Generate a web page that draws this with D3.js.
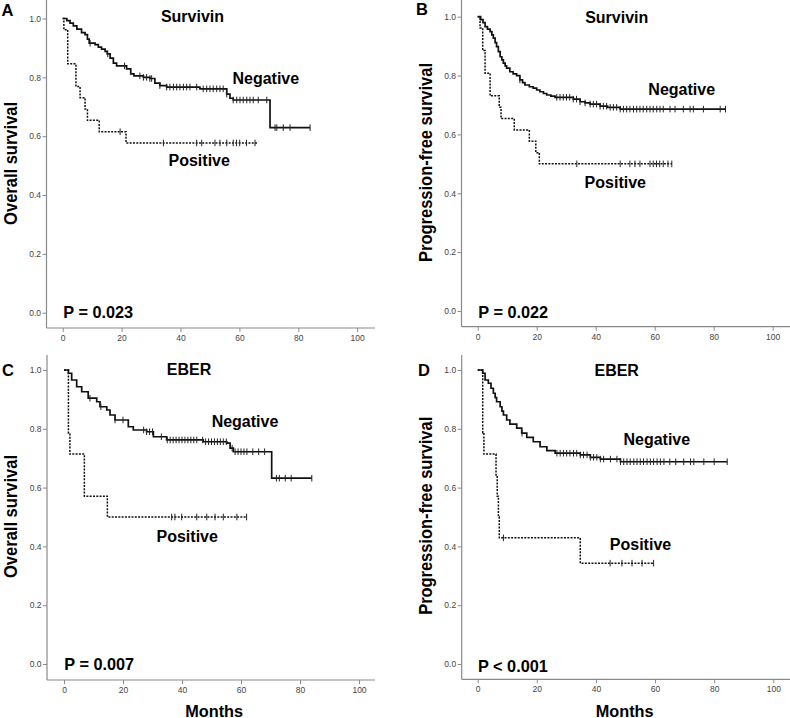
<!DOCTYPE html>
<html>
<head>
<meta charset="utf-8">
<script src="https://cdn.jsdelivr.net/npm/d3@7"></script>
<style>
  html, body { margin: 0; padding: 0; background: #fff; }
  svg { display: block; font-family: Arial, "Liberation Sans", sans-serif; }
</style>
</head>
<body>
<svg id="chart" width="790" height="718"></svg>
<script>
// ---------- DATA ----------
const xTicks = [0, 20, 40, 60, 80, 100];
const yTicks = [0, 0.2, 0.4, 0.6, 0.8, 1.0];

// Panel A: Survivin, overall survival
const aNegEvents = [[1.4,0.993],[2.5,0.984],[3.6,0.975],[4.8,0.964],[6.4,0.952],[7.6,0.945],[8.4,0.93],[9.0,0.916],[11,0.911],[12.1,0.903],[13.2,0.896],[14.4,0.888],[15.1,0.88],[16.1,0.865],[17.2,0.848],[18.3,0.839],[21.7,0.829],[23.1,0.812],[24.2,0.805],[27.4,0.8],[29.6,0.796],[31.3,0.78],[33,0.772],[35.3,0.767],[46.6,0.761],[55.7,0.743],[56.8,0.729],[57.9,0.723],[70.4,0.629]];
const aNegEnd = 84;
const aNegCensor = [9.3,15.3,21,26.2,27.4,28.5,29.6,30.2,33,35.3,36.4,37.6,38.7,39.8,41,42.1,43.2,45.5,47.7,48.9,50,51.1,52.3,53.4,54.5,55.7,57.9,59.1,60.2,61.3,62.5,63.6,64.7,66.4,69.3,72.1,72.7,74.9,77.2,84];
const aPosEvents = [[0.4,0.962],[1.7,0.846],[4.5,0.769],[5.9,0.731],[7.6,0.692],[8.4,0.654],[12.4,0.615],[21.5,0.577]];
const aPosEnd = 66.2;
const aPosCensor = [19.5,34.2,45.5,47.2,51.7,53.4,55.7,57.9,59,60.1,62.4,65.3];

// Panel B: Survivin, progression-free survival
const bNegEvents = [[1.0,0.99],[1.8,0.98],[2.5,0.966],[3.3,0.958],[4.2,0.949],[4.8,0.938],[5.3,0.927],[5.9,0.912],[6.4,0.898],[7.0,0.881],[7.6,0.864],[8.2,0.853],[8.7,0.842],[9.3,0.833],[9.8,0.825],[10.9,0.813],[12,0.806],[13.2,0.8],[14.3,0.785],[15.2,0.776],[16,0.768],[17.5,0.762],[18.8,0.757],[20,0.751],[21.1,0.745],[22.3,0.739],[23.4,0.734],[24.8,0.73],[26.2,0.726],[32.4,0.72],[34.7,0.711],[36.4,0.707],[38.1,0.703],[41.5,0.696],[44,0.692],[48.3,0.686]];
const bNegEnd = 84;
const bNegCensor = [14.3,26.8,27.9,29,30.1,31.2,32.4,33.5,34.7,36.4,38.1,39.2,40.3,41.5,42.6,43.7,44.9,46,47.1,48.3,49.4,50.5,51.6,52.8,53.9,55,56.1,57.3,58.4,59.5,60.7,61.8,62.9,65.2,66.9,69.7,72,73.1,76.5,82.2,84];
const bPosEvents = [[0.8,0.962],[1.7,0.885],[2.5,0.808],[4.2,0.731],[7.3,0.692],[7.9,0.654],[12.4,0.615],[17.5,0.577],[19.7,0.538],[20.9,0.5]];
const bPosEnd = 65.8;
const bPosCensor = [33.6,48.3,51.6,53.3,55,58.4,59.5,60.6,61.7,62.9,64.5,65.8];

// Panel C: EBER, overall survival
const cNegEvents = [[1.5,0.989],[2.6,0.966],[4.3,0.943],[6,0.926],[8.2,0.904],[11.1,0.892],[12.2,0.875],[14.5,0.864],[15.6,0.847],[17.3,0.83],[21.8,0.807],[23.5,0.796],[28,0.79],[30.3,0.773],[34.8,0.762],[47.2,0.756],[55.2,0.751],[56.3,0.734],[57.4,0.722],[70.4,0.632]];
const cNegEnd = 84;
const cNegCensor = [8.8,12.5,17.3,20,27,28,29,30,33,35,36,37,38,39,40,41,42,43,44,45,47,48,49,50,51,52,53,54,55,57,58,59,60,61,62,64,66,68,72,73,75,77,84];
const cPosEvents = [[1.5,0.786],[2.0,0.714],[6.9,0.571],[14.7,0.5]];
const cPosEnd = 61.9;
const cPosCensor = [36.5,37.6,39.9,45,48.4,51.2,54,58.6,61.9];

// Panel D: EBER, progression-free survival
const dNegEvents = [[1.7,0.989],[2.5,0.966],[3.6,0.955],[4.5,0.938],[5.3,0.921],[5.9,0.906],[6.4,0.892],[7.6,0.875],[8.2,0.86],[8.7,0.847],[9.8,0.83],[10.9,0.816],[13.2,0.802],[14.9,0.785],[16.6,0.771],[18.8,0.756],[21.1,0.739],[23.4,0.726],[26.2,0.717],[34.7,0.711],[38.1,0.703],[41.5,0.697],[48.3,0.688]];
const dNegEnd = 84.4;
const dNegCensor = [15,26.8,27.9,29,30.1,31.2,32.4,33.5,34.7,35.8,37,38.1,39.2,40.3,41.5,42.6,44.9,47.1,48.3,49.4,50.5,51.6,52.8,53.9,55,56.1,57.3,58.4,59.5,60.7,61.8,63,65,67,69.7,72,73.1,76.5,80,84.4];
const dPosEvents = [[1.7,0.786],[2.1,0.714],[6.2,0.643],[6.6,0.571],[7.0,0.5],[7.3,0.429],[34.7,0.343]];
const dPosEnd = 59.5;
const dPosCensor = [8.7,44.8,48.8,52.2,55.6,59.5];

const panelLetters = ["A", "B", "C", "D"];
const panelTitles = ["Survivin", "Survivin", "EBER", "EBER"];
const yTitles = ["Overall survival", "Progression-free survival", "Overall survival", "Progression-free survival"];
const pValues = ["P = 0.023", "P = 0.022", "P = 0.007", "P < 0.001"];
const groupNames = ["Negative", "Positive"];
const xTitle = "Months";

// ---------- LAYOUT ----------
const layouts = [
  { axisX: 46.5, x0: 62.7, x100: 357.2, y0: 312.7, y1: 18.5, axisY: 328, axisTop: 0, axisRight: 375,
    letter: [1.5, 15.5], title: [192.5, 21.5], neg: [265.8, 83.5], pos: [199.2, 165.5], p: [63.3, 317.5], ytitle: [17, 163.4, 123], xtitle: null },
  { axisX: 461.5, x0: 477.7, x100: 772.7, y0: 311, y1: 16.7, axisY: 326.7, axisTop: 0, axisRight: 790,
    letter: [416, 15], title: [616.7, 22.5], neg: [681.7, 94.8], pos: [615.3, 188], p: [478.3, 318], ytitle: [431.5, 162.5, 199], xtitle: null },
  { axisX: 47, x0: 64, x100: 359, y0: 664, y1: 370, axisY: 680, axisTop: 355, axisRight: 375,
    letter: [2, 375.5], title: [189, 375], neg: [245, 426.5], pos: [187.2, 542], p: [64.3, 670], ytitle: [17, 516.5, 123], xtitle: [214.2, 716.5] },
  { axisX: 461.7, x0: 477.7, x100: 773.3, y0: 664, y1: 370, axisY: 679.3, axisTop: 355, axisRight: 790,
    letter: [418, 375.5], title: [616.7, 376], neg: [656.8, 444.8], pos: [640.5, 549.8], p: [478, 671.5], ytitle: [431.5, 515.8, 198], xtitle: [624.7, 716.5] }
];

const series = [
  { neg: [aNegEvents, aNegEnd, aNegCensor], pos: [aPosEvents, aPosEnd, aPosCensor] },
  { neg: [bNegEvents, bNegEnd, bNegCensor], pos: [bPosEvents, bPosEnd, bPosCensor] },
  { neg: [cNegEvents, cNegEnd, cNegCensor], pos: [cPosEvents, cPosEnd, cPosCensor] },
  { neg: [dNegEvents, dNegEnd, dNegCensor], pos: [dPosEvents, dPosEnd, dPosCensor] }
];

// ---------- DRAW ----------
const svg = d3.select("#chart");
const axisColor = "#8a8a8a";

function survAt(events, t) {
  let s = 1;
  for (const e of events) { if (e[0] <= t) s = e[1]; else break; }
  return s;
}

function drawCurve(g, x, y, events, end, censors, dashed) {
  const pts = [[0, 1], ...events];
  pts.push([end, events[events.length - 1][1]]);
  const line = d3.line().x(d => x(d[0])).y(d => y(d[1])).curve(d3.curveStepAfter);
  g.append("path")
    .attr("d", line(pts))
    .attr("fill", "none")
    .attr("stroke", "#111")
    .attr("stroke-width", dashed ? 1.5 : 1.7)
    .attr("stroke-dasharray", dashed ? "2,1.3" : null);
  g.selectAll(null).data(censors).enter().append("line")
    .attr("x1", d => x(d)).attr("x2", d => x(d))
    .attr("y1", d => y(survAt(events, d)) - 3.3)
    .attr("y2", d => y(survAt(events, d)) + 3.3)
    .attr("stroke", "#222").attr("stroke-width", 1);
}

layouts.forEach((L, i) => {
  const g = svg.append("g");
  const x = d3.scaleLinear().domain([0, 100]).range([L.x0, L.x100]);
  const y = d3.scaleLinear().domain([0, 1]).range([L.y0, L.y1]);

  // axis lines
  g.append("line").attr("x1", L.axisX).attr("x2", L.axisX).attr("y1", L.axisTop).attr("y2", L.axisY)
    .attr("stroke", axisColor).attr("stroke-width", 1.2);
  g.append("line").attr("x1", L.axisX).attr("x2", L.axisRight).attr("y1", L.axisY).attr("y2", L.axisY)
    .attr("stroke", axisColor).attr("stroke-width", 1.2);

  const yAxis = d3.axisLeft(y).tickValues(yTicks).tickFormat(d3.format(".1f")).tickSize(4).tickPadding(1.5);
  const yg = g.append("g").attr("transform", `translate(${L.axisX},0)`).call(yAxis);
  const xAxis = d3.axisBottom(x).tickValues(xTicks).tickFormat(d3.format("d")).tickSize(4).tickPadding(3);
  const xg = g.append("g").attr("transform", `translate(0,${L.axisY})`).call(xAxis);
  [yg, xg].forEach(a => {
    a.select(".domain").remove();
    a.selectAll(".tick line").attr("stroke", axisColor);
    a.selectAll(".tick text").attr("fill", "#444").attr("font-size", 8.5)
      .attr("font-family", "Arial, 'Liberation Sans', sans-serif");
  });

  // curves
  drawCurve(g, x, y, ...series[i].neg, false);
  drawCurve(g, x, y, ...series[i].pos, true);

  const bold = (sel, size) => sel.attr("font-weight", "bold").attr("font-size", size).attr("fill", "#000");

  bold(g.append("text").attr("x", L.letter[0]).attr("y", L.letter[1]).text(panelLetters[i]), 16.5);
  bold(g.append("text").attr("x", L.title[0]).attr("y", L.title[1]).attr("text-anchor", "middle").text(panelTitles[i]), 16);
  bold(g.append("text").attr("x", L.neg[0]).attr("y", L.neg[1]).attr("text-anchor", "middle").text(groupNames[0]), 16);
  bold(g.append("text").attr("x", L.pos[0]).attr("y", L.pos[1]).attr("text-anchor", "middle").text(groupNames[1]), 16);
  bold(g.append("text").attr("x", L.p[0]).attr("y", L.p[1]).text(pValues[i]), 16.3);
  bold(g.append("text")
    .attr("transform", `translate(${L.ytitle[0]},${L.ytitle[1]}) rotate(-90)`)
    .attr("text-anchor", "middle")
    .attr("textLength", L.ytitle[2]).attr("lengthAdjust", "spacingAndGlyphs")
    .text(yTitles[i]), 18.5);
  if (L.xtitle) {
    bold(g.append("text").attr("x", L.xtitle[0]).attr("y", L.xtitle[1]).attr("text-anchor", "middle").text(xTitle), 16.3);
  }
});
</script>
</body>
</html>
